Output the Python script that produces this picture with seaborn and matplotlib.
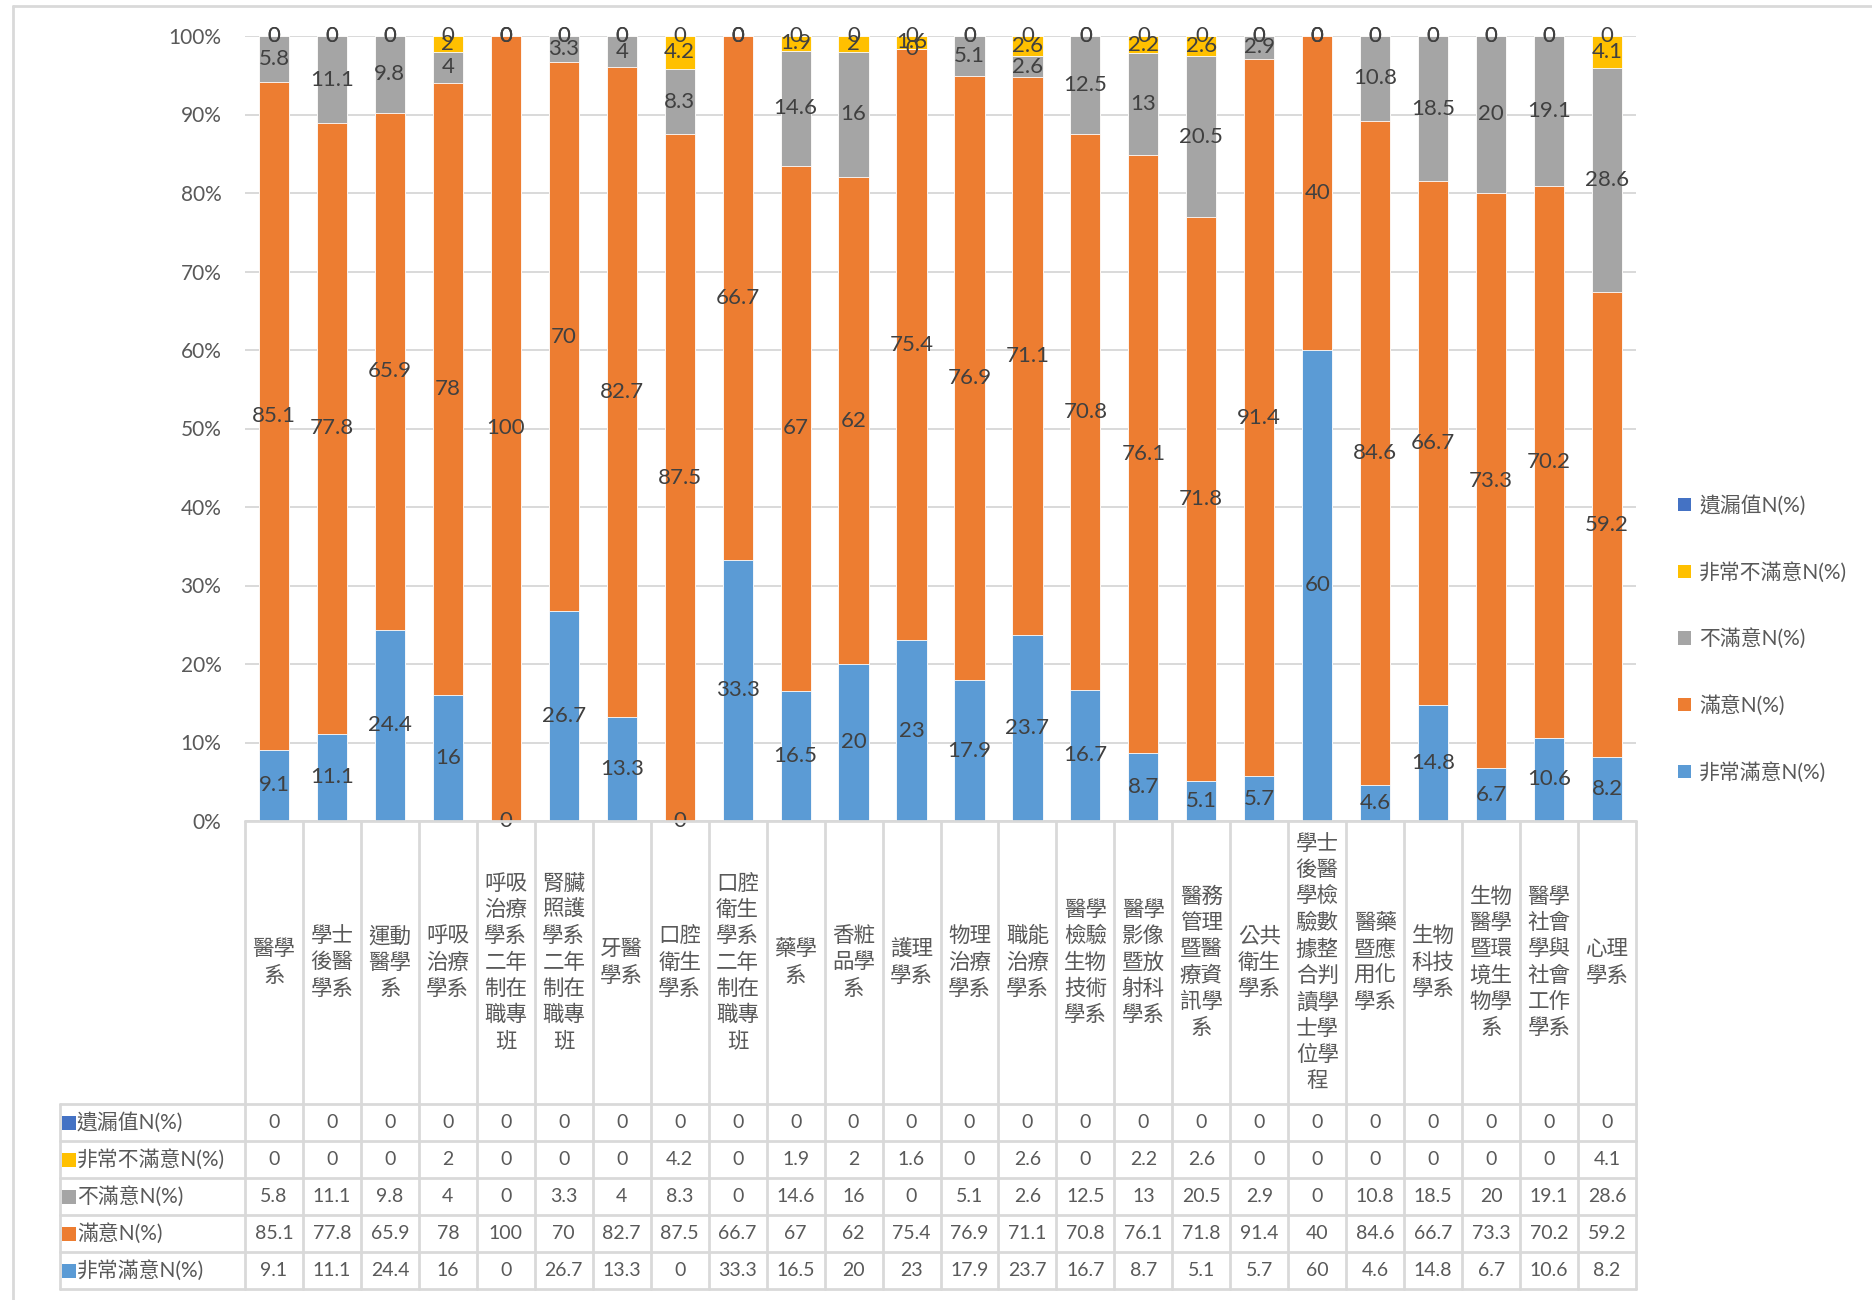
import numpy as np
import pandas as pd
import matplotlib
matplotlib.use("Agg")
import matplotlib.pyplot as plt
from matplotlib.patches import Patch
from matplotlib.lines import Line2D
import seaborn as sns

# data (percent of respondents per department)
categories = [
    "醫學系", "學士後醫學系", "運動醫學系", "呼吸治療學系",
    "呼吸治療學系二年制在職專班", "腎臟照護學系二年制在職專班", "牙醫學系",
    "口腔衛生學系", "口腔衛生學系二年制在職專班", "藥學系", "香粧品學系",
    "護理學系", "物理治療學系", "職能治療學系", "醫學檢驗生物技術學系",
    "醫學影像暨放射科學系", "醫務管理暨醫療資訊學系", "公共衛生學系",
    "學士後醫學檢驗數據整合判讀學士學位學程", "醫藥暨應用化學系",
    "生物科技學系", "生物醫學暨環境生物學系", "醫學社會學與社會工作學系",
    "心理學系",
]
very_satisfied = [9.1, 11.1, 24.4, 16, 0, 26.7, 13.3, 0, 33.3, 16.5, 20, 23,
                  17.9, 23.7, 16.7, 8.7, 5.1, 5.7, 60, 4.6, 14.8, 6.7, 10.6, 8.2]
satisfied = [85.1, 77.8, 65.9, 78, 100, 70, 82.7, 87.5, 66.7, 67, 62, 75.4,
             76.9, 71.1, 70.8, 76.1, 71.8, 91.4, 40, 84.6, 66.7, 73.3, 70.2, 59.2]
dissatisfied = [5.8, 11.1, 9.8, 4, 0, 3.3, 4, 8.3, 0, 14.6, 16, 0,
                5.1, 2.6, 12.5, 13, 20.5, 2.9, 0, 10.8, 18.5, 20, 19.1, 28.6]
very_dissatisfied = [0, 0, 0, 2, 0, 0, 0, 4.2, 0, 1.9, 2, 1.6,
                     0, 2.6, 0, 2.2, 2.6, 0, 0, 0, 0, 0, 0, 4.1]
missing = [0, 0, 0, 0, 0, 0, 0, 0, 0, 0, 0, 0,
           0, 0, 0, 0, 0, 0, 0, 0, 0, 0, 0, 0]

# stacking order, bottom -> top
series_names = ["非常滿意N(%)", "滿意N(%)", "不滿意N(%)", "非常不滿意N(%)", "遺漏值N(%)"]
series_colors = ["#5B9BD5", "#ED7D31", "#A5A5A5", "#FFC000", "#4472C4"]

df = pd.DataFrame(
    dict(zip(series_names, [very_satisfied, satisfied, dissatisfied,
                            very_dissatisfied, missing])),
    index=categories,
)
# 100% stacked: normalise each row
share = df.div(df.sum(axis=1), axis=0) * 100
cum = share.cumsum(axis=1)

sns.set_theme(style="white")
plt.rcParams["font.family"] = ["Lato", "Noto Sans CJK TC"]

W, H = 1872, 1300
fig = plt.figure(figsize=(W / 100, H / 100), dpi=100)

TXT = "#595959"
LBL = "#404040"
GRID = "#D9D9D9"

# ---- bar area ----
ax = fig.add_axes([245 / W, 1 - 821 / H, (1636 - 245) / W, (821 - 36) / H])
for name, color in reversed(list(zip(series_names, series_colors))):
    sns.barplot(x=categories, y=cum[name].values, order=categories,
                color=color, saturation=1, width=0.52, errorbar=None,
                edgecolor="white", linewidth=0.6, ax=ax)

for name in series_names:
    for i, cat in enumerate(categories):
        y = cum.loc[cat, name] - share.loc[cat, name] / 2
        ax.text(i, y, f"{df.loc[cat, name]:g}", ha="center", va="center",
                fontsize=16, color=LBL, zorder=5)

n = len(categories)
ax.set_xlim(-0.5, n - 0.5)
ax.set_ylim(0, 100)
ax.set_yticks(range(0, 101, 10))
ax.set_yticklabels([f"{t}%" for t in range(0, 101, 10)])
ax.set_axisbelow(True)
ax.yaxis.grid(True, color=GRID, linewidth=1.4)
ax.set_xticks([])
ax.set_xlabel("")
ax.set_ylabel("")
ax.tick_params(axis="y", length=0, pad=17, labelsize=15, labelcolor=TXT)
for s in ax.spines.values():
    s.set_visible(False)

# ---- data table under the bars ----
header_px = 245 - 60
cat_px = (1636 - 245) / n
cat_h, row_h = 283, 37
tab_h = cat_h + 5 * row_h
ax_t = fig.add_axes([60 / W, 1 - (821 + tab_h) / H, (1636 - 60) / W, tab_h / H])
x0 = -0.5 - header_px / cat_px
ax_t.set_xlim(x0, n - 0.5)
ax_t.set_ylim(tab_h, 0)
ax_t.axis("off")

lk = dict(color=GRID, linewidth=2, clip_on=False)
for i in range(n + 1):
    ax_t.plot([i - 0.5, i - 0.5], [0, tab_h], **lk)
ax_t.plot([x0, x0], [cat_h, tab_h], **lk)
ax_t.plot([-0.5, n - 0.5], [0, 0], **lk)
for k in range(6):
    ax_t.plot([x0, n - 0.5], [cat_h + k * row_h] * 2, **lk)

for i, cat in enumerate(categories):
    wrapped = "\n".join(cat[j:j + 2] for j in range(0, len(cat), 2))
    ax_t.text(i, cat_h / 2, wrapped, ha="center", va="center",
              fontsize=15.5, color=TXT, linespacing=1.38)

rows = list(reversed(list(zip(series_names, series_colors))))
for k, (name, color) in enumerate(rows):
    yc = cat_h + (k + 0.5) * row_h
    ax_t.scatter([x0 + 9 / cat_px], [yc], marker="s", s=90, color=color,
                 linewidths=0, clip_on=False)
    ax_t.text(x0 + 17 / cat_px, yc, name, ha="left", va="center",
              fontsize=15, color=TXT)
    for i, cat in enumerate(categories):
        ax_t.text(i, yc, f"{df.loc[cat, name]:g}", ha="center", va="center",
                  fontsize=14, color=TXT)

# ---- legend on the right ----
handles = [Patch(facecolor=c, edgecolor="none") for _, c in rows]
fig.legend(handles, [nm for nm, _ in rows], loc="center left",
           bbox_to_anchor=(1668 / W, 1 - 639 / H), frameon=False,
           fontsize=15, labelspacing=2.2, handlelength=0.6,
           handleheight=0.6, handletextpad=0.4, borderpad=0,
           labelcolor=TXT)

# chart border (only the top and left are in frame)
fig.add_artist(Line2D([13 / W, 1], [1 - 6 / H, 1 - 6 / H], color=GRID, linewidth=2))
fig.add_artist(Line2D([13 / W, 13 / W], [0, 1 - 6 / H], color=GRID, linewidth=2))

fig.savefig("out.png", dpi=100)
